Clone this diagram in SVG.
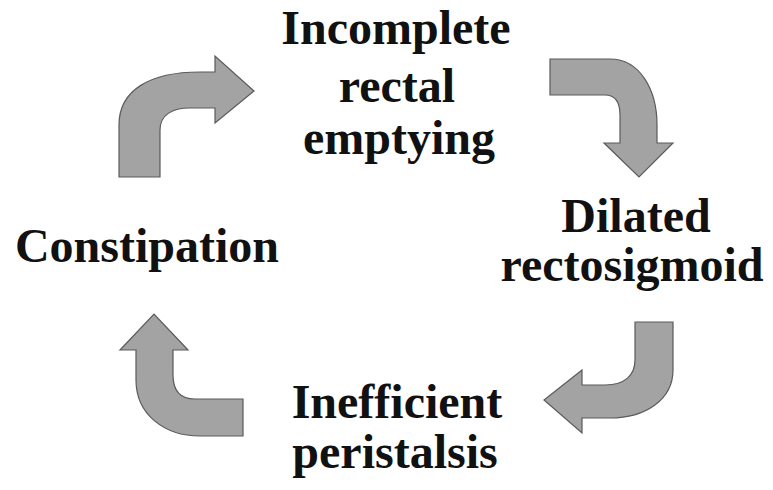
<svg xmlns="http://www.w3.org/2000/svg" width="773" height="490" viewBox="0 0 773 490">
<style>
.t{font-family:"Liberation Serif","Times New Roman",serif;font-weight:bold;font-size:48px;fill:#111;text-anchor:middle}
.a{fill:#a3a3a3;stroke:#5a5a5a;stroke-width:1.2;stroke-linejoin:miter}
</style>
<rect width="773" height="490" fill="#ffffff"/>
<g id="node-incomplete"><text class="t" x="396" y="44">Incomplete</text><text class="t" x="397" y="102">rectal</text><text class="t" x="399" y="154">emptying</text></g>
<g id="node-dilated"><text class="t" x="636" y="232">Dilated</text><text class="t" x="632" y="281">rectosigmoid</text></g>
<g id="node-inefficient"><text class="t" x="397" y="418">Inefficient</text><text class="t" x="395" y="468">peristalsis</text></g>
<g id="node-constipation"><text class="t" x="147" y="262">Constipation</text></g>
<g id="connectors">
<path class="a" d="M119,177 L119,125 C119,90 150,72 200,72 L215,72 L215,56 L254,91 L215,123 L215,108 L190,108 C172,108 160,115 160,130 L160,177 Z"/>
<path class="a" d="M550,59 L610,59 C640,59 657,90 657,125 L657,143 L673,143 L639,177 L604,143 L620,143 L620,115 C620,102 615,95 605,95 L550,95 Z"/>
<path class="a" d="M635,322 L673,322 L673,370 C673,400 645,418 610,418 L582,418 L582,433 L544,400 L582,370 L582,385 L605,385 C625,385 635,375 635,360 Z"/>
<path class="a" d="M243,399 L195,399 C180,399 173,390 173,375 L173,350 L188,350 L154,314 L120,350 L136,350 L136,380 C136,415 165,436 200,436 L243,436 Z"/>
</g>
</svg>
